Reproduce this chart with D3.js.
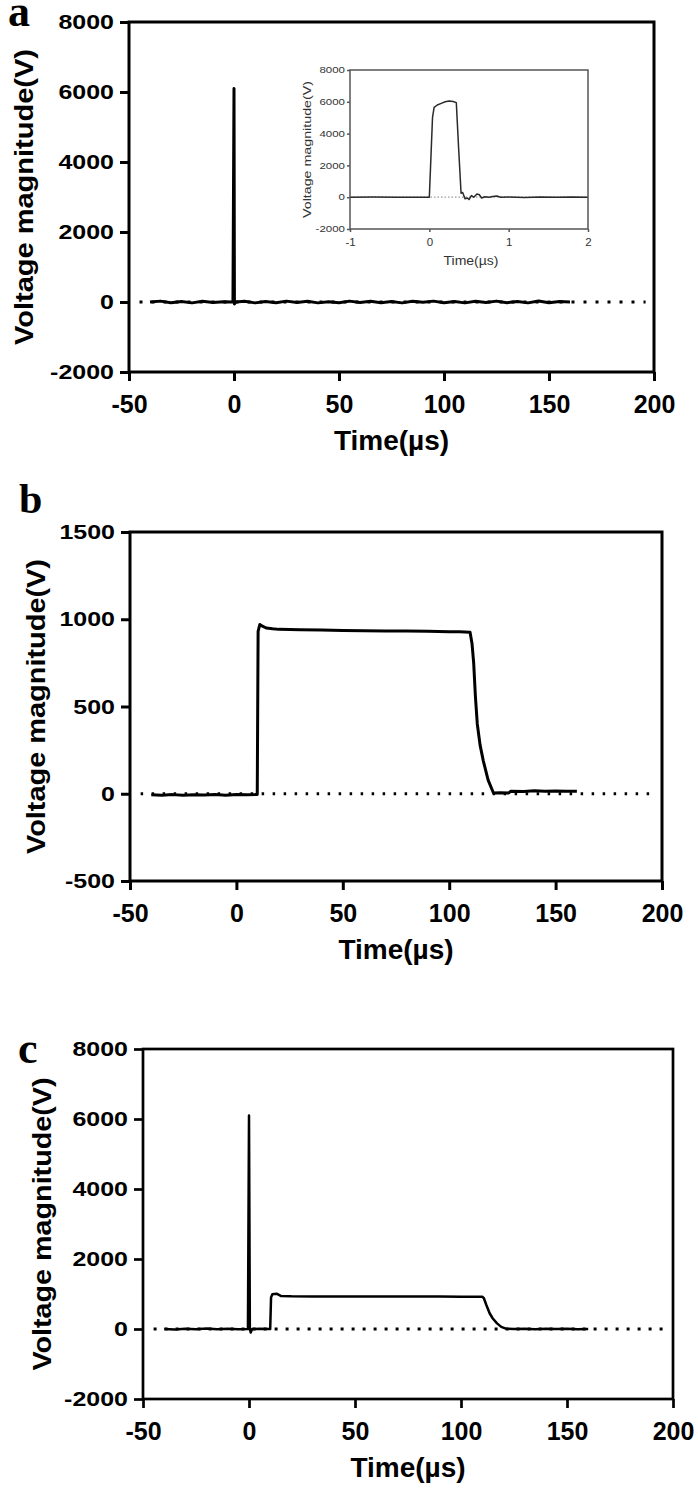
<!DOCTYPE html>
<html>
<head>
<meta charset="utf-8">
<script src="https://cdn.jsdelivr.net/npm/d3@7"></script>
<style>
  body { margin: 0; background: #fff; }
  svg { display: block; font-family: "Liberation Sans", Arial, sans-serif; }
</style>
</head>
<body>
<svg id="fig" width="698" height="1495"></svg>
<script>
// ── Data ───────────────────────────────────────────────────
const timeTicks = [-50, 0, 50, 100, 150, 200];
const voltTicksWide = [-2000, 0, 2000, 4000, 6000, 8000];
const voltTicksB = [-500, 0, 500, 1000, 1500];
const zeroSpan = [-45, 196];

// panel a: nanosecond pulse on the full time scale
const aTime = [-40, -35, -30, -25, -20, -15, -10, -5,
  -0.5, 0, 0.2, 0.8,
  5, 10, 15, 20, 25, 30, 35, 40, 45, 50, 55, 60, 65, 70, 75, 80,
  85, 90, 95, 100, 105, 110, 115, 120, 125, 130, 135, 140, 145, 150, 155, 160];
const aVolt = [0, 25, -20, 15, -25, 20, -15, 10,
  0, 6100, -60, 0,
  20, -25, 15, -20, 25, -15, 20, -25, 10, -20, 25, -15, 20, -20, 15, -25,
  20, -10, 25, -20, 15, -25, 20, -15, 25, -20, 15, -25, 30, -20, 15, 0];

// inset of panel a (µs)
const insetTimeTicks = [-1, 0, 1, 2];
const insetTime = [-1, -0.7, -0.4, -0.1, 0, 0.02, 0.04, 0.06, 0.1, 0.15,
  0.2, 0.25, 0.3, 0.34, 0.37, 0.4, 0.42, 0.45, 0.48, 0.5,
  0.53, 0.56, 0.6, 0.63, 0.66, 0.7, 0.75, 0.8, 0.85, 0.9,
  1, 1.2, 1.4, 1.6, 1.8, 2];
const insetVolt = [0, 10, -10, 0, 0, 2500, 5000, 5650, 5800, 5900,
  6000, 6050, 6020, 5950, 3000, 250, 300, -100, -50, -150,
  100, 0, 200, 150, -50, 30, 0, 50, 80, 0,
  20, -20, 10, -10, 10, 0];

// panel b: microsecond pulse
const bTime = [-40, -35, -30, -25, -20, -15, -10, -5, 0, 5,
  9.8, 10.2, 11, 12, 14, 17, 20,
  30, 40, 50, 60, 70, 80, 90, 100,
  105, 109.8, 110.7, 111.5, 112.3, 113.2, 114.5, 116, 118.3, 120.8,
  124, 128, 129, 135, 140, 145, 150, 155, 160];
const bVolt = [-6, -8, -5, -9, -6, -7, -5, -8, -4, -6,
  -4, 930, 970, 962, 950, 945, 942,
  940, 938, 936, 934, 933, 932, 931, 929,
  928, 926, 863, 750, 560, 400, 280, 190, 78, 4,
  6, 5, 15, 13, 17, 14, 16, 15, 14];

// panel c: combined nanosecond + microsecond pulse
const cTime = [-40, -35, -30, -25, -20, -15, -10, -5,
  -0.5, 0, 0.4, 0.8, 1.5,
  5, 10, 10.4, 11, 13, 15, 20,
  30, 40, 50, 60, 70, 80, 90, 100, 110,
  110.8, 112, 113.5, 115, 117, 119, 121.5,
  125, 130, 135, 140, 145, 150, 155, 160];
const cVolt = [0, -15, 10, -10, 15, -10, 5, -5,
  0, 6100, 0, -100, 0,
  5, 0, 900, 990, 1010, 945, 935,
  932, 930, 930, 928, 928, 927, 926, 925, 924,
  880, 680, 450, 300, 160, 60, 5,
  0, 10, -5, 10, 0, 8, -5, 0];

// ── Drawing ────────────────────────────────────────────────
const svg = d3.select('#fig');
const fmt = d => String(d);

function drawPanel(p) {
  const x = d3.scaleLinear().domain([-50, 200]).range([p.left, p.right]);
  const y = d3.scaleLinear().domain(p.yDomain).range([p.bottom, p.top]);
  const g = svg.append('g');

  // dotted zero line
  g.append('line')
    .attr('x1', x(zeroSpan[0])).attr('x2', x(zeroSpan[1]))
    .attr('y1', y(0)).attr('y2', y(0))
    .attr('stroke', '#000')
    .attr('stroke-width', 3)
    .attr('stroke-dasharray', p.dash);

  // trace
  const line = d3.line().x(d => x(d[0])).y(d => y(d[1]));
  g.append('path')
    .datum(d3.zip(p.time, p.volt))
    .attr('d', line)
    .attr('fill', 'none')
    .attr('stroke', '#000')
    .attr('stroke-width', p.lineW)
    .attr('stroke-linejoin', 'round');

  // frame
  g.append('rect')
    .attr('x', p.left).attr('y', p.top)
    .attr('width', p.right - p.left).attr('height', p.bottom - p.top)
    .attr('fill', 'none')
    .attr('stroke', '#000')
    .attr('stroke-width', p.axisW);

  // x axis
  const xa = g.append('g')
    .attr('transform', `translate(0,${p.bottom})`)
    .call(d3.axisBottom(x).tickValues(timeTicks).tickSize(9).tickPadding(14).tickFormat(fmt));
  xa.attr('font-family', null).attr('font-size', null);
  xa.select('.domain').remove();
  xa.selectAll('line').attr('stroke', '#000').attr('stroke-width', p.axisW);
  xa.selectAll('text')
    .attr('fill', '#000')
    .attr('font-size', 25)
    .attr('font-weight', p.tickWeight);

  // y axis
  const ya = g.append('g')
    .attr('transform', `translate(${p.left},0)`)
    .call(d3.axisLeft(y).tickValues(p.yTicks).tickSize(9).tickPadding(6).tickFormat(fmt));
  ya.attr('font-family', null).attr('font-size', null);
  ya.select('.domain').remove();
  ya.selectAll('line').attr('stroke', '#000').attr('stroke-width', p.axisW);
  ya.selectAll('text')
    .attr('fill', '#000')
    .attr('font-size', 25)
    .attr('font-weight', p.tickWeight)
    .attr('transform', 'scale(1,0.83)');

  // titles
  g.append('text')
    .attr('x', (p.left + p.right) / 2)
    .attr('y', p.bottom + 78)
    .attr('text-anchor', 'middle')
    .attr('font-size', 28)
    .attr('font-weight', 'bold')
    .text('Time(µs)');

  g.append('text')
    .attr('transform', `translate(${p.ylabX},${(p.top + p.bottom) / 2}) rotate(-90)`)
    .attr('text-anchor', 'middle')
    .attr('dy', '0.35em')
    .attr('font-size', 25)
    .attr('font-weight', 'bold')
    .attr('textLength', p.ylabLen)
    .attr('lengthAdjust', 'spacingAndGlyphs')
    .text('Voltage magnitude(V)');

  // panel letter
  g.append('text')
    .attr('x', p.letterX).attr('y', p.letterY)
    .attr('font-family', '"Liberation Serif", "Times New Roman", serif')
    .attr('font-weight', 'bold')
    .attr('font-size', p.letterSize)
    .text(p.letter);
}

function drawInset() {
  const left = 350, right = 588, top = 70, bottom = 229;
  const x = d3.scaleLinear().domain([-1, 2]).range([left, right]);
  const y = d3.scaleLinear().domain([-2000, 8000]).range([bottom, top]);
  const g = svg.append('g');

  g.append('rect')
    .attr('x', left).attr('y', top)
    .attr('width', right - left).attr('height', bottom - top)
    .attr('fill', '#fff');

  g.append('line')
    .attr('x1', x(-1)).attr('x2', x(2))
    .attr('y1', y(0)).attr('y2', y(0))
    .attr('stroke', '#999')
    .attr('stroke-width', 1.2)
    .attr('stroke-dasharray', '1.5,2');

  const line = d3.line().x(d => x(d[0])).y(d => y(d[1]));
  g.append('path')
    .datum(d3.zip(insetTime, insetVolt))
    .attr('d', line)
    .attr('fill', 'none')
    .attr('stroke', '#2a2a2a')
    .attr('stroke-width', 1.5)
    .attr('stroke-linejoin', 'round');

  g.append('rect')
    .attr('x', left).attr('y', top)
    .attr('width', right - left).attr('height', bottom - top)
    .attr('fill', 'none')
    .attr('stroke', '#555')
    .attr('stroke-width', 1.5);

  const xa = g.append('g')
    .attr('transform', `translate(0,${bottom})`)
    .call(d3.axisBottom(x).tickValues(insetTimeTicks).tickSize(3).tickPadding(6).tickFormat(fmt));
  xa.attr('font-family', null).attr('font-size', null);
  xa.select('.domain').remove();
  xa.selectAll('line').attr('stroke', '#555').attr('stroke-width', 1.5);
  xa.selectAll('text').attr('fill', '#333').attr('font-size', 11.5);

  const ya = g.append('g')
    .attr('transform', `translate(${left},0)`)
    .call(d3.axisLeft(y).tickValues(voltTicksWide).tickSize(3).tickPadding(2).tickFormat(fmt));
  ya.attr('font-family', null).attr('font-size', null);
  ya.select('.domain').remove();
  ya.selectAll('line').attr('stroke', '#555').attr('stroke-width', 1.5);
  ya.selectAll('text').attr('fill', '#333').attr('font-size', 11.5).attr('transform', 'scale(1,0.75)');

  g.append('text')
    .attr('x', 471).attr('y', 265)
    .attr('text-anchor', 'middle')
    .attr('font-size', 12)
    .attr('fill', '#333')
    .attr('textLength', 55)
    .attr('lengthAdjust', 'spacingAndGlyphs')
    .text('Time(µs)');

  g.append('text')
    .attr('transform', `translate(307,${(top + bottom) / 2}) rotate(-90)`)
    .attr('text-anchor', 'middle')
    .attr('dy', '0.35em')
    .attr('font-size', 11.5)
    .attr('fill', '#333')
    .attr('textLength', 137)
    .attr('lengthAdjust', 'spacingAndGlyphs')
    .text('Voltage magnitude(V)');
}

drawPanel({
  letter: 'a', letterX: 8, letterY: 26, letterSize: 44,
  left: 129, right: 654, top: 22, bottom: 372,
  yDomain: [-2000, 8000], yTicks: voltTicksWide,
  time: aTime, volt: aVolt,
  lineW: 3, axisW: 3, dash: '3,9',
  tickWeight: 'bold',
  ylabX: 24, ylabLen: 296
});
drawInset();

drawPanel({
  letter: 'b', letterX: 19, letterY: 513, letterSize: 42,
  left: 130, right: 662, top: 532, bottom: 881,
  yDomain: [-500, 1500], yTicks: voltTicksB,
  time: bTime, volt: bVolt,
  lineW: 3, axisW: 3, dash: '2.5,8.5',
  tickWeight: 'bold',
  ylabX: 36, ylabLen: 295
});

drawPanel({
  letter: 'c', letterX: 18, letterY: 1063, letterSize: 44,
  left: 143, right: 673, top: 1049, bottom: 1399,
  yDomain: [-2000, 8000], yTicks: voltTicksWide,
  time: cTime, volt: cVolt,
  lineW: 2.5, axisW: 2.7, dash: '3,8',
  tickWeight: 'bold',
  ylabX: 42, ylabLen: 293
});
</script>
</body>
</html>
